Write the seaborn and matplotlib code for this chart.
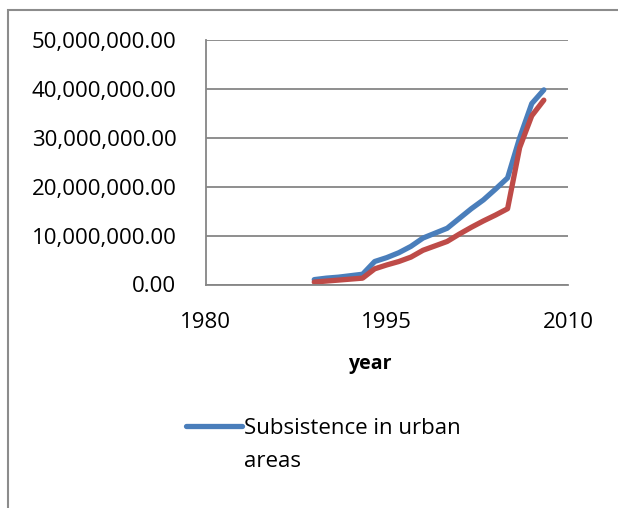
import numpy as np
import pandas as pd
import seaborn as sns
import matplotlib.pyplot as plt
from matplotlib.patches import Rectangle
from matplotlib.ticker import FuncFormatter

years = [1989, 1990, 1991, 1992, 1993, 1994, 1995, 1996, 1997, 1998,
         1999, 2000, 2001, 2002, 2003, 2004, 2005, 2006, 2007, 2008]
urban = [1.0, 1.3, 1.5, 1.8, 2.1, 4.7, 5.5, 6.5, 7.8, 9.5,
         10.5, 11.5, 13.5, 15.5, 17.3, 19.5, 21.8, 30.0, 37.0, 39.8]
second = [0.5, 0.7, 0.9, 1.1, 1.3, 3.2, 4.0, 4.7, 5.6, 7.0,
          7.9, 8.8, 10.3, 11.7, 13.0, 14.2, 15.5, 28.0, 34.5, 37.7]
series_names = ["Subsistence in urban\nareas", "Subsistence in rural\nareas"]
xticks = [1980, 1995, 2010]

df = pd.concat([
    pd.DataFrame({"year": years, "value": np.array(urban) * 1e6, "series": series_names[0]}),
    pd.DataFrame({"year": years, "value": np.array(second) * 1e6, "series": series_names[1]}),
])

sns.set_style("white")
plt.rcParams['font.family'] = ['Open Sans', 'DejaVu Sans']
plt.rcParams['text.color'] = 'black'
plt.rcParams['axes.labelcolor'] = 'black'

fig = plt.figure(figsize=(6.18, 5.08), dpi=100)
ax = fig.add_axes([205.5 / 618, 1 - 284.5 / 508, 362.5 / 618, 244.5 / 508])

sns.lineplot(data=df, x="year", y="value", hue="series",
             palette=["#4a7ebb", "#be4b48"], linewidth=3.8, ax=ax,
             solid_capstyle="round", solid_joinstyle="round", legend=False)

ax.set_xlim(1980, 2010)
ax.set_ylim(0, 50e6)
ax.set_xticks(xticks)
ax.set_yticks(np.arange(0, 50e6 + 1, 10e6))
ax.yaxis.set_major_formatter(FuncFormatter(lambda v, p: f"{v:,.2f}"))
ax.grid(axis="y", color="#868686", linewidth=1.3)
ax.set_axisbelow(True)
for s in ["top", "right"]:
    ax.spines[s].set_visible(False)
for s in ["left", "bottom"]:
    ax.spines[s].set_color("#868686")
    ax.spines[s].set_linewidth(1.3)
ax.tick_params(axis="both", colors="#868686", labelcolor="black", labelsize=16,
               length=6, width=1.3, direction="out")
ax.tick_params(axis="y", pad=15)
ax.tick_params(axis="x", pad=14)
ax.set_ylabel("")
ax.set_xlabel("year", fontsize=14, fontweight="bold")
ax.xaxis.set_label_coords((370 - 205.5) / 362.5, -0.285)

# legend (only first entry visible, as in the chart)
handle = ax.get_lines()[0]
leg = fig.legend([handle], [series_names[0]], loc="upper left",
                 bbox_to_anchor=(166 / 618, 1 - 398 / 508), frameon=False,
                 fontsize=16, handlelength=2.5, handletextpad=0.1)
for t in leg.get_texts():
    t.set_linespacing(1.75)
# put the legend line level with the first text line
for row in leg._legend_handle_box.get_children():
    for hp in row.get_children():
        hp.align = "top"

# outer chart border
fig.add_artist(Rectangle((8 / 618, -0.1), 2, (508 - 10) / 508 + 0.1,
                         transform=fig.transFigure, fill=False,
                         edgecolor="#8c8c8c", linewidth=1.5))

fig.savefig("out.png", dpi=100)
